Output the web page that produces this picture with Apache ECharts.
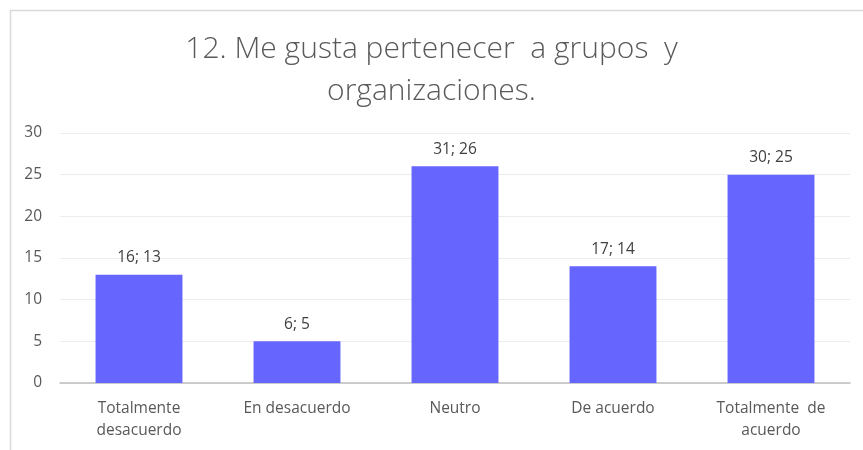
<!DOCTYPE html>
<html>
<head>
<meta charset="utf-8">
<script src="https://cdn.jsdelivr.net/npm/echarts@6/dist/echarts.min.js"></script>
<style>
  html, body { margin: 0; padding: 0; background: #fff; }
  #chart { width: 863px; height: 450px; }
</style>
</head>
<body>
<div id="chart"></div>
<script>
const categories = ["Totalmente\ndesacuerdo", "En desacuerdo", "Neutro", "De acuerdo", "Totalmente  de\nacuerdo"];
const counts = [16, 6, 31, 17, 30];
const percents = [13, 5, 26, 14, 25];

const myChart = echarts.init(document.getElementById("chart"));

myChart.setOption({
  animation: false,
  graphic: [
    {
      type: "rect",
      shape: { x: 10.5, y: 10.5, width: 900, height: 500 },
      style: { fill: "none", stroke: "#d9d9d9", lineWidth: 1.5 }
    }
  ],
  title: {
    text: "12. Me gusta pertenecer  a grupos  y\norganizaciones.",
    left: "center",
    top: 23,
    textStyle: {
      fontFamily: "Open Sans",
      fontWeight: 300,
      fontSize: 30,
      lineHeight: 42,
      color: "#595959"
    }
  },
  grid: { left: 60, right: 13, top: 133, bottom: 67 },
  xAxis: {
    type: "category",
    data: categories,
    axisTick: { show: false },
    axisLine: { lineStyle: { color: "#bfbfbf", width: 1.5 } },
    axisLabel: {
      margin: 15,
      fontFamily: "Open Sans",
      fontSize: 15.5,
      lineHeight: 22,
      color: "#595959",
      interval: 0
    }
  },
  yAxis: {
    type: "value",
    min: 0,
    max: 30,
    interval: 5,
    axisLine: { show: false },
    axisTick: { show: false },
    splitLine: { lineStyle: { color: "#ececec", width: 1 } },
    axisLabel: {
      margin: 18,
      fontFamily: "Open Sans",
      fontSize: 15.5,
      color: "#595959"
    }
  },
  series: [
    {
      type: "bar",
      data: percents,
      barWidth: "55%",
      itemStyle: { color: "#6666ff" },
      label: {
        show: true,
        position: "top",
        distance: 9,
        fontFamily: "Open Sans",
        fontSize: 15.5,
        color: "#404040",
        formatter: function (p) {
          return counts[p.dataIndex] + "; " + percents[p.dataIndex];
        }
      }
    }
  ]
});
</script>
</body>
</html>
